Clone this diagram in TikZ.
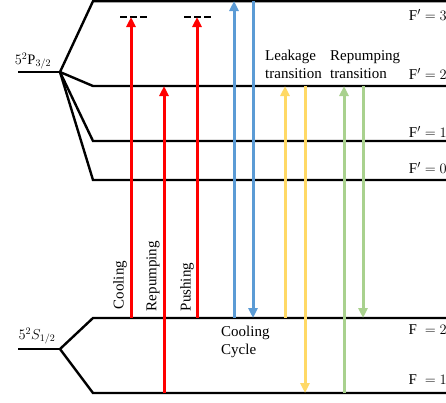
\documentclass[tikz,border=0pt]{standalone}
\usepackage{fontspec}
\setmainfont{Liberation Serif}
\usetikzlibrary{arrows.meta}
\definecolor{cred}{HTML}{FF0000}
\definecolor{cblue}{HTML}{5B9BD5}
\definecolor{cyellow}{HTML}{FFD966}
\definecolor{cgreen}{HTML}{A9D18E}
\begin{document}
\begin{tikzpicture}[x=1pt,y=-1pt,
  level/.style={line width=2.4pt,black},
  trans/.style={line width=3pt,-{Triangle[length=10pt,width=9pt]}},
  lbl/.style={font=\fontsize{15}{18}\selectfont,inner sep=0pt},
  flbl/.style={font=\fontsize{15}{17}\selectfont,inner sep=0pt,anchor=east},
  virt/.style={line width=2pt,dash pattern=on 7pt off 3pt}]
\useasboundingbox (0,0) rectangle (446,402);
% excited state
\coordinate (Pst) at (18,72);
\coordinate (P) at (60,72);
\coordinate (F3l) at (93,1.2);  \coordinate (F3r) at (450,1.2);
\coordinate (F2pl) at (93,86);  \coordinate (F2pr) at (450,86);
\coordinate (F1pl) at (93,141); \coordinate (F1pr) at (450,141);
\coordinate (F0pl) at (93,180); \coordinate (F0pr) at (450,180);
\draw[level] (Pst) -- (P);
\draw[level] (P) -- (F3l) -- (F3r);
\draw[level] (P) -- (F2pl) -- (F2pr);
\draw[level] (P) -- (F1pl) -- (F1pr);
\draw[level] (P) -- (F0pl) -- (F0pr);
% ground state
\coordinate (Sst) at (18,349);
\coordinate (S) at (60,349);
\coordinate (G2l) at (93,318); \coordinate (G2r) at (450,318);
\coordinate (G1l) at (93,393); \coordinate (G1r) at (450,393);
\draw[level] (Sst) -- (S);
\draw[level] (S) -- (G2l) -- (G2r);
\draw[level] (S) -- (G1l) -- (G1r);
% state labels
\node[lbl,font=\fontsize{14.5}{16}\selectfont] (Plab) at (33,61) {$5^2\mathrm{P}_{3/2}$};
\node[lbl,font=\fontsize{14.5}{16}\selectfont] (Slab) at (37,336) {$5^2S_{1/2}$};
\node[flbl] (lF3) at (447,15) {$\mathrm{F}' = 3$};
\node[flbl] (lF2p) at (447,74) {$\mathrm{F}' = 2$};
\node[flbl] (lF1p) at (447,132) {$\mathrm{F}' = 1$};
\node[flbl] (lF0p) at (447,168) {$\mathrm{F}' = 0$};
\node[flbl] (lG2) at (447,330) {$\mathrm{F}\ = 2$};
\node[flbl] (lG1) at (447,380) {$\mathrm{F}\ = 1$};
% virtual levels
\coordinate (v1l) at (120,17); \coordinate (v1r) at (147,17);
\coordinate (v2l) at (184,17); \coordinate (v2r) at (211,17);
\draw[virt] (v1l) -- (v1r);
\draw[virt] (v2l) -- (v2r);
% red transitions
\coordinate (coolA) at (131,318); \coordinate (coolB) at (131,17);
\coordinate (repA) at (164,393);  \coordinate (repB) at (164,86);
\coordinate (pushA) at (197,318); \coordinate (pushB) at (197,17);
\draw[trans,cred] (coolA) -- (coolB);
\draw[trans,cred] (repA) -- (repB);
\draw[trans,cred] (pushA) -- (pushB);
\node[lbl,rotate=90] (tcool) at (120,285) {Cooling};
\node[lbl,rotate=90] (trep) at (153,276) {Repumping};
\node[lbl,rotate=90] (tpush) at (187,287) {Pushing};
% blue cooling cycle
\coordinate (bA) at (234,318); \coordinate (bB) at (234,1);
\coordinate (bC) at (253,1);   \coordinate (bD) at (253,318);
\draw[trans,cblue] (bA) -- (bB);
\draw[trans,cblue] (bC) -- (bD);
\node[lbl,align=left,anchor=north west] (tcyc) at (221,326) {Cooling\\Cycle};
% leakage
\coordinate (yA) at (285,318); \coordinate (yB) at (285,86);
\coordinate (yC) at (305,86);  \coordinate (yD) at (305,393);
\draw[trans,cyellow] (yA) -- (yB);
\draw[trans,cyellow] (yC) -- (yD);
\node[lbl,align=left,anchor=north west] (tleak) at (265,50) {Leakage\\transition};
% repumping
\coordinate (gA) at (344,393); \coordinate (gB) at (344,86);
\coordinate (gC) at (363,86);  \coordinate (gD) at (363,318);
\draw[trans,cgreen] (gA) -- (gB);
\draw[trans,cgreen] (gC) -- (gD);
\node[lbl,align=left,anchor=north west] (trp) at (330,50) {Repumping\\transition};
\end{tikzpicture}
\end{document}
